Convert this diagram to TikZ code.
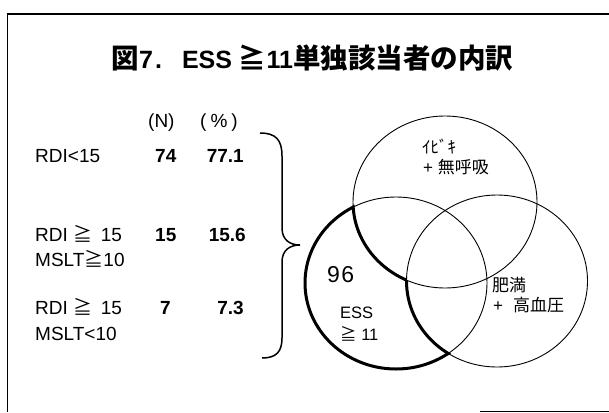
\documentclass[tikz,border=0pt]{standalone}
\usepackage{fontspec}
\setmainfont{Liberation Sans}
\newfontfamily\jp{Noto Sans CJK JP}
\newcommand\gq{{\jp ≧}}
\begin{document}
\begin{tikzpicture}[x=1pt,y=-1pt,
  lbl/.style={anchor=base west,inner sep=0pt,font=\fontsize{19}{19}\selectfont},
  num/.style={anchor=base west,inner sep=0pt,font=\fontsize{19}{19}\selectfont\bfseries},
  pct/.style={anchor=base east,inner sep=0pt,font=\fontsize{19}{19}\selectfont\bfseries},
  vlbl/.style={anchor=base west,inner sep=0pt,font=\fontsize{17}{17}\selectfont},
  frame/.style={line width=1.2pt},
  thinc/.style={line width=0.9pt},
  boldc/.style={line width=3pt},
  bracestyle/.style={line width=1.5pt}]
\useasboundingbox (0,0) rectangle (609,412);
% frame
\coordinate (fbl) at (7.5,412);
\coordinate (ftl) at (7.5,14);
\coordinate (ftr) at (609,14);
\coordinate (bb1) at (480,411);
\coordinate (bb2) at (609,411);
\draw[frame] (fbl) -- (ftl) -- (ftr);
\draw[line width=0.8pt] (bb1) -- (bb2);
% title
\node[anchor=base west,inner sep=0pt,font=\fontsize{25}{25}\selectfont\bfseries] (title) at (111.5,68)
  {{\jp\fontsize{27.5}{27.5}\selectfont 図}7\hspace{2pt}.\hspace{20pt}ESS\hspace{6pt}{\jp\fontsize{27.5}{27.5}\selectfont ≧}\hspace{1pt}11{\jp\fontsize{27.5}{27.5}\selectfont 単独該当者の内訳}};
% table
\node[lbl] (hn) at (148,127) {(N)};
\node[lbl] (hp) at (200,127) {(\hspace{4pt}\%\hspace{4pt})};
\node[lbl] (r1) at (35,162) {RDI<15};
\node[num] (n1) at (155,162) {74};
\node[pct] (p1) at (244,162) {77.1};
\node[lbl] (r2) at (35,241) {RDI\hspace{6pt}\gq\hspace{8pt}15};
\node[lbl] (r2b) at (35,266) {MSLT\gq{}10};
\node[num] (n2) at (155,241) {15};
\node[pct] (p2) at (246,241) {15.6};
\node[lbl] (r3) at (35,314) {RDI\hspace{6pt}\gq\hspace{8pt}15};
\node[lbl] (r3b) at (35,340) {MSLT<10};
\node[num] (n3) at (160,314) {7};
\node[pct] (p3) at (244,314) {7.3};
% brace
\coordinate (bt) at (260,133);
\coordinate (bm) at (300,245);
\coordinate (bbt) at (262,358);
\draw[bracestyle] (bt) .. controls (276,133) and (282,140) .. (282,156) -- (282,228)
  .. controls (282,240) and (290,245) .. (bm)
  .. controls (290,245) and (282,250) .. (282,262) -- (282,338)
  .. controls (282,352) and (276,358) .. (bbt);
% venn
\coordinate (cT) at (445,202);
\coordinate (cL) at (396,283);
\coordinate (cR) at (497,281);
\draw[thinc] (cT) ellipse [x radius=92,y radius=86];
\draw[thinc] (cL) ellipse [x radius=91,y radius=86];
\draw[thinc] (cR) ellipse [x radius=90.5,y radius=86];
\begin{scope}[even odd rule]
  \clip (0,0) rectangle (609,412) (cT) ellipse [x radius=92,y radius=86];
  \clip (0,0) rectangle (609,412) (cR) ellipse [x radius=90.5,y radius=86];
  \draw[boldc] (cL) ellipse [x radius=91,y radius=86];
\end{scope}
\begin{scope}[even odd rule]
  \clip (cL) ellipse [x radius=92.5,y radius=87.5];
  \clip (0,0) rectangle (609,412) (cR) ellipse [x radius=90.5,y radius=86];
  \draw[boldc] (cT) ellipse [x radius=92,y radius=86];
\end{scope}
\begin{scope}[even odd rule]
  \clip (cL) ellipse [x radius=92.5,y radius=87.5];
  \clip (0,0) rectangle (609,412) (cT) ellipse [x radius=92,y radius=86];
  \draw[boldc] (cR) ellipse [x radius=90.5,y radius=86];
\end{scope}
% venn labels
\node[vlbl] (ibiki) at (422,153) {\jp ｲﾋﾞｷ};
\node[vlbl] (mukokyu) at (423,173) {+ {\jp 無呼吸}};
\node[vlbl] (himan) at (492,291) {\jp 肥満};
\node[vlbl] (kouketsu) at (493,311) {+\hspace{10pt}{\jp 高血圧}};
\node[anchor=base west,inner sep=0pt,font=\fontsize{23}{23}\selectfont] (n96) at (327,282) {9\hspace{1.5pt}6};
\node[anchor=base west,inner sep=0pt,font=\fontsize{16.5}{16.5}\selectfont] (ess) at (340,318) {ESS};
\node[anchor=base west,inner sep=0pt,font=\fontsize{16.5}{16.5}\selectfont] (ge11) at (340,340) {\gq{} 11};
\end{tikzpicture}
\end{document}
